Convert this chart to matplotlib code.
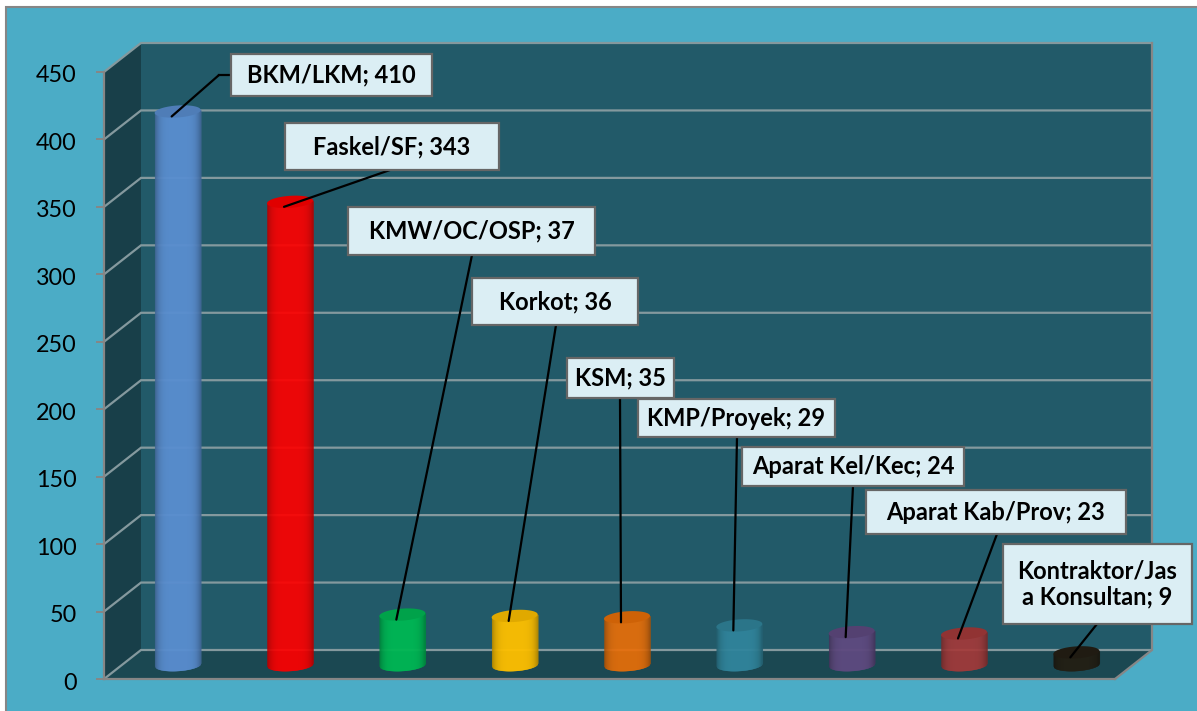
import numpy as np
import matplotlib
matplotlib.use("Agg")
import matplotlib.pyplot as plt
from matplotlib.colors import to_rgb
from matplotlib.lines import Line2D
from matplotlib.patches import Polygon, Rectangle
from matplotlib.transforms import Affine2D, ScaledTranslation

# === DATA ===
categories = ["BKM/LKM", "Faskel/SF", "KMW/OC/OSP", "Korkot", "KSM", "KMP/Proyek",
              "Aparat Kel/Kec", "Aparat Kab/Prov", "Kontraktor/Jas\na Konsultan"]
values = [410, 343, 37, 36, 35, 29, 24, 23, 9]
y_ticks = [0, 50, 100, 150, 200, 250, 300, 350, 400, 450]

# === STYLE ===
bar_colors = ["#5a8ed0", "#ff0000", "#00b854", "#ffc000", "#ea6f08",
              "#31859c", "#5f4a80", "#a53a3a", "#241f14"]
# label boxes as left, top, right, bottom in pixels from the top left corner
boxes = [(231, 54, 432, 96), (285, 123, 499, 170), (348, 207, 595, 255),
         (472, 278, 638, 325), (567, 358, 674, 398), (638, 399, 835, 437),
         (742, 447, 964, 486), (866, 490, 1126, 534), (1003, 544, 1192, 624)]
leader_starts = [(219, 75), (390, 170), (472, 255), (556, 325), (620, 398),
                 (737, 437), (853, 486), (997, 534), (1097, 624)]

W, H = 1197, 711
plt.rcParams["font.family"] = ["Lato", "DejaVu Sans"]

fig = plt.figure(figsize=(W / 100, H / 100), dpi=100, facecolor="white")
px = Affine2D().scale(1, -1).translate(0, H)  # top-left pixel coordinates
fig.add_artist(Rectangle((6, 7), W, H, transform=px, facecolor="#4bacc6",
                         edgecolor="#868686", linewidth=1.5, zorder=-5))

# front plane of the chart
left, right, y0, y450 = 104, 1115, 679, 72
ax = fig.add_axes([left / W, (H - y0) / H, (right - left) / W, (y0 - y450) / H])
ax.patch.set_visible(False)
ax.set_xlim(0, len(categories))
ax.set_ylim(0, 450)

unit_x = (right - left) / len(categories)
unit_y = (y0 - y450) / 450
depth_x = 37 / unit_x
depth_y = 29 / unit_y
n = len(categories)

# walls
ax.add_patch(Polygon([(depth_x, depth_y), (n + depth_x, depth_y), (n + depth_x, 450 + depth_y),
                      (depth_x, 450 + depth_y)], facecolor="#225a69", clip_on=False, zorder=0.1))
ax.add_patch(Polygon([(0, 0), (depth_x, depth_y), (depth_x, 450 + depth_y), (0, 450)],
                     facecolor="#183f49", clip_on=False, zorder=0.2))
ax.add_patch(Polygon([(0, 0), (n, 0), (n + depth_x, depth_y), (depth_x, depth_y)],
                     facecolor="#1b4852", clip_on=False, zorder=0.2))

# gridlines run along the side wall and the back wall
grid_col = "#84999e"
for t in y_ticks:
    ax.plot([0, depth_x, n + depth_x], [t, t + depth_y, t + depth_y], color=grid_col,
            lw=1.6, clip_on=False, zorder=0.5, solid_joinstyle="miter")
ax.plot([n, n + depth_x, n + depth_x], [0, depth_y, 450 + depth_y], color="#868686",
        lw=1.6, clip_on=False, zorder=0.5)

# cylinders
half_w = 23 / unit_x
half_h = 6 / unit_y
tilt = 1.5 / unit_y
centers = np.arange(n) + 0.5 + (depth_x - 2 / unit_x) / 2
base = depth_y / 2


def ellipse_points(xc, yc):
    t = np.linspace(0, 2 * np.pi, 90)
    return np.column_stack([xc + half_w * np.cos(t), yc + half_h * np.sin(t) + tilt * np.cos(t)])


for xc, v, col in zip(centers, values, bar_colors):
    rgb = np.array(to_rgb(col))
    edges = np.linspace(-1, 1, 47)
    for a, b in zip(edges[:-1], edges[1:]):
        u = (a + b) / 2
        shade = 0.7 + 0.3 * (1 - abs(u) ** 5)
        xs = np.array([a, b])
        lower = base - half_h * np.sqrt(1 - xs ** 2) + tilt * xs
        upper = np.full(2, base + v) + tilt * xs
        ax.fill_between(xc + xs * half_w, lower, upper, color=rgb * shade, lw=0.3,
                        clip_on=False, zorder=2)
    ax.add_patch(Polygon(ellipse_points(xc, base + v), facecolor=rgb * 0.88, edgecolor="none",
                         clip_on=False, zorder=2.1))

# axes
for side in ["top", "right"]:
    ax.spines[side].set_visible(False)
for side in ["left", "bottom"]:
    ax.spines[side].set_color("#868686")
    ax.spines[side].set_linewidth(1.6)
    ax.spines[side].set_zorder(1)
ax.set_xticks([])
ax.set_yticks(y_ticks)
ax.tick_params(axis="y", length=6, width=1.4, color="#868686", labelsize=16.8, pad=13.5,
               labelcolor="black")
down = ScaledTranslation(0, -2 / 100, fig.dpi_scale_trans)
for lab in ax.get_yticklabels():
    lab.set_transform(lab.get_transform() + down)

# leader lines and data labels
for i, (cat, v) in enumerate(zip(categories, values)):
    end = (centers[i] - 6 / unit_x, base + v - 5 / unit_y)
    ax.annotate("", xy=end, xycoords="data", xytext=leader_starts[i], textcoords=px,
                arrowprops=dict(arrowstyle="-", color="black", lw=1.6, shrinkA=0, shrinkB=0),
                zorder=3, annotation_clip=False)
    x1, y1, x2, y2 = boxes[i]
    if i == 0:
        fig.add_artist(Line2D([219, x1], [75, 75], transform=px, color="black", lw=1.6, zorder=4))
    fig.add_artist(Rectangle((x1, y1), x2 - x1, y2 - y1, transform=px, facecolor="#dbeef4",
                             edgecolor="#666666", linewidth=1.6, zorder=5))
    fig.text((x1 + x2) / 2, (y1 + y2) / 2, f"{cat}; {v}", transform=px, ha="center",
             va="center", fontsize=17, fontweight="bold", color="black", linespacing=1.15,
             zorder=6)

fig.savefig("out.png", dpi=100)
